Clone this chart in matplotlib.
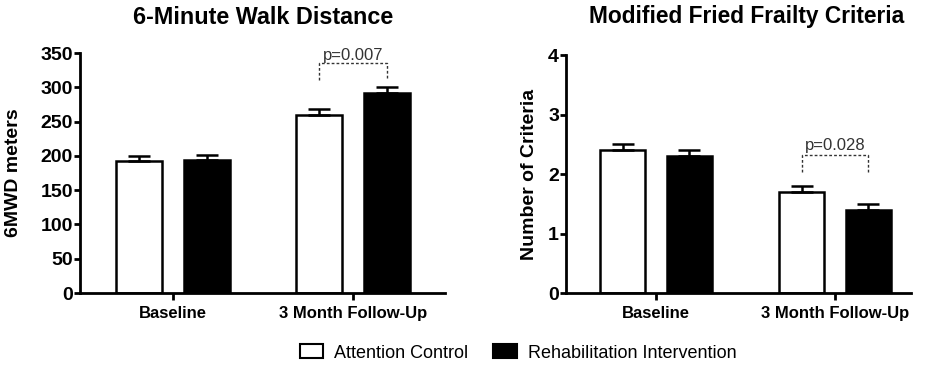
import matplotlib.pyplot as plt
from matplotlib.patches import Patch
import numpy as np

plt.rcParams['font.family'] = ['Liberation Sans', 'DejaVu Sans']

categories = ['Baseline', '3 Month Follow-Up']
groups = ['Attention Control', 'Rehabilitation Intervention']

walk_control = [192, 260]
walk_rehab = [194, 292]
walk_err_control = [8, 8]
walk_err_rehab = [8, 8]

frail_control = [2.4, 1.7]
frail_rehab = [2.3, 1.4]
frail_err_control = [0.1, 0.1]
frail_err_rehab = [0.1, 0.1]

walk_p = 'p=0.007'
frail_p = 'p=0.028'


def draw_panel(ax, control, rehab, err_c, err_r, ylabel, ylim, yticks, xlim, p_text, p_box):
    x = np.arange(len(categories))
    off = 0.187
    w = 0.255
    ax.bar(x - off, control, w, color='white', edgecolor='black', linewidth=1.8, zorder=2)
    ax.bar(x + off, rehab, w, color='black', edgecolor='black', linewidth=1.8, zorder=2)
    # caps are 2*capsize points long
    ax.errorbar(x - off, control, yerr=[np.zeros(len(x)), err_c], fmt='none',
                ecolor='black', elinewidth=1.8, capsize=8, capthick=1.8, zorder=3)
    ax.errorbar(x + off, rehab, yerr=[np.zeros(len(x)), err_r], fmt='none',
                ecolor='black', elinewidth=1.8, capsize=8, capthick=1.8, zorder=3)

    # significance bracket over the follow-up pair
    lo, hi, ty = p_box
    bx = [1 - off, 1 - off, 1 + off, 1 + off]
    ax.plot(bx, [lo, hi, hi, lo], ls=(0, (2, 1.5)), color='#333333', lw=1.0, clip_on=False)
    ax.text(1, ty, p_text, ha='center', va='bottom', fontsize=12, color='#333333')

    ax.set_xlim(*xlim)
    ax.set_ylim(*ylim)
    ax.set_yticks(yticks)
    ax.set_xticks(x)
    ax.set_xticklabels(categories, fontsize=12, fontweight='bold')
    for lab in ax.get_yticklabels():
        lab.set_fontweight('bold')
        lab.set_fontsize(14)
    ax.set_ylabel(ylabel, fontsize=14, fontweight='bold')
    for s in ['top', 'right']:
        ax.spines[s].set_visible(False)
    for s in ['left', 'bottom']:
        ax.spines[s].set_linewidth(2)
    ax.tick_params(axis='y', width=2, length=4, pad=1)
    ax.tick_params(axis='x', width=2, length=5, pad=4)


fig = plt.figure(figsize=(9.32, 3.68), dpi=100)
ax1 = fig.add_axes([0.0858, 0.2038, 0.3917, 0.652])
ax2 = fig.add_axes([0.6073, 0.2038, 0.3702, 0.6467])

draw_panel(ax1, walk_control, walk_rehab, walk_err_control, walk_err_rehab,
           '6MWD meters', (0, 350), range(0, 351, 50),
           (-0.517, 1.511), walk_p, (310, 335, 336))
draw_panel(ax2, frail_control, frail_rehab, frail_err_control, frail_err_rehab,
           'Number of Criteria', (0, 4), range(0, 5),
           (-0.503, 1.425), frail_p, (2.03, 2.32, 2.35))
ax1.yaxis.set_label_coords(-0.159, 0.5)
ax2.yaxis.set_label_coords(-0.081, 0.5)

fig.text(263 / 932, 1 - 17 / 368, '6-Minute Walk Distance', ha='center', va='center',
         fontsize=16.8, fontweight='bold')
fig.text(747 / 932, 1 - 17 / 368, 'Modified Fried Frailty Criteria', ha='center', va='center',
         fontsize=16.4, fontweight='bold')

handles = [Patch(facecolor='white', edgecolor='black', linewidth=1.5),
           Patch(facecolor='black', edgecolor='black', linewidth=1.5)]
fig.legend(handles, groups, loc='center', bbox_to_anchor=(518 / 932, 1 - 353 / 368),
           ncol=2, frameon=False, fontsize=13, handlelength=1.3, handleheight=0.8,
           columnspacing=1.4, handletextpad=0.6)

fig.savefig('out.png', dpi=100)
